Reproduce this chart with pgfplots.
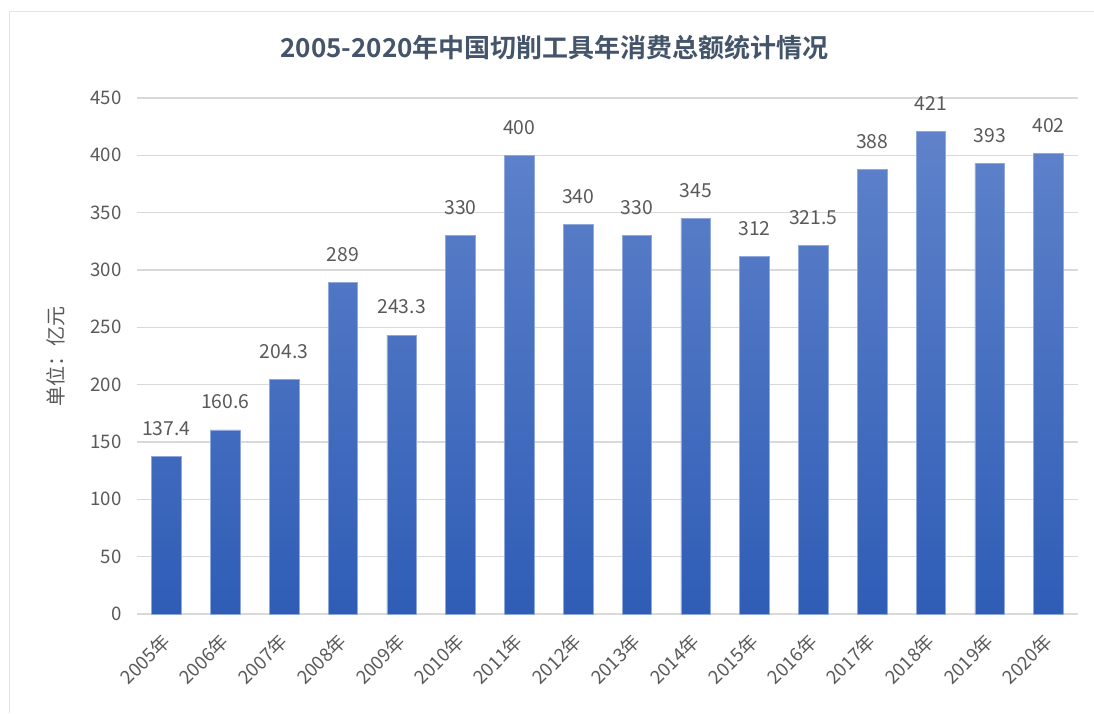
\documentclass[border=0pt]{standalone}
\usepackage{pgfplots}
\pgfplotsset{compat=1.18}
\usepackage{fontspec}
\setmainfont{Noto Sans CJK SC}
\newfontfamily\titlefont{Noto Sans CJK SC Bold}
\definecolor{txt}{HTML}{595959}
\definecolor{ttl}{HTML}{44546A}
\definecolor{grid}{HTML}{D9D9D9}
\definecolor{bartop}{HTML}{5F82CA}
\definecolor{barbot}{HTML}{2F5DB6}
\definecolor{baredge}{HTML}{8FA9DC}
\begin{document}
\begin{tikzpicture}
\path[use as bounding box] (0,0) rectangle (820.5pt,534.75pt);
\draw[color=grid!70, line width=1pt] (7pt,0) -- (7pt,526pt) -- (820.5pt,526pt);
\node[font=\titlefont\fontsize{19.5}{21}\selectfont, text=ttl] at (416pt,499pt) {2005-2020年中国切削工具年消费总额统计情况};
\begin{axis}[
  at={(102.75pt,74.25pt)}, anchor=south west,
  scale only axis, width=705.75pt, height=387pt,
  ymin=0, ymax=450, ytick={0,50,...,450},
  xmin=-0.5, xmax=15.5,
  xtick={0,...,15},
  xticklabels={2005年,2006年,2007年,2008年,2009年,2010年,2011年,2012年,2013年,2014年,2015年,2016年,2017年,2018年,2019年,2020年},
  axis line style={draw=none},
  axis x line*=bottom,
  ymajorgrids, grid style={color=grid, line width=0.8pt},
  major tick length=0pt,
  tick label style={font=\fontsize{14}{15}\selectfont, text=txt},
  /pgf/number format/assume math mode=true,
  yticklabel style={xshift=-8pt},
  xticklabel style={rotate=45, anchor=east, inner sep=0pt},
  xticklabel shift=18pt,
  ylabel={单位：亿元},
  ylabel style={font=\fontsize{15}{16}\selectfont, text=txt, at={(axis description cs:-0.086,0.5)}, anchor=center},
  clip=false,
  nodes near coords,
  point meta=explicit symbolic,
  every node near coord/.append style={font=\fontsize{14.5}{15}\selectfont, text=txt, yshift=12pt},
]
\draw[grid, line width=0.8pt] (axis cs:-0.5,0) -- (axis cs:15.5,0);
\addplot[ybar, bar width=22.2pt, draw=baredge, line width=0.5pt, top color=bartop, bottom color=barbot] table[meta=lab] {
x y lab
0 137.4 137.4
1 160.6 160.6
2 204.3 204.3
3 289 289
4 243.3 243.3
5 330 330
6 400 400
7 340 340
8 330 330
9 345 345
10 312 312
11 321.5 321.5
12 388 388
13 421 421
14 393 393
15 402 402
};
\end{axis}
\end{tikzpicture}
\end{document}
